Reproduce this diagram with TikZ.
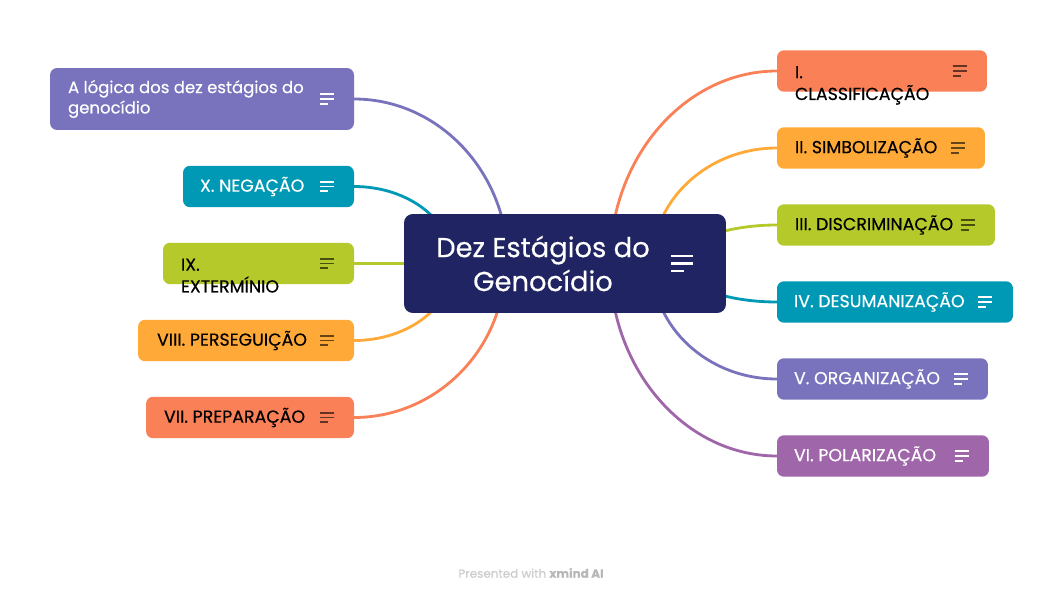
\documentclass[tikz,border=0pt]{standalone}
\usepackage{fontspec}
\setmainfont{Poppins}[FakeBold=0.35]
\usetikzlibrary{positioning}
\usetikzlibrary{backgrounds}

\definecolor{rootblue}{RGB}{32,36,98}
\definecolor{stpurple}{RGB}{120,115,188}
\definecolor{stteal}{RGB}{0,153,181}
\definecolor{stlime}{RGB}{181,201,42}
\definecolor{storange}{RGB}{255,170,56}
\definecolor{stcoral}{RGB}{250,128,88}
\definecolor{stmagenta}{RGB}{160,102,170}

\tikzset{every node/.style={inner sep=0pt, outer sep=0pt}}
\tikzset{
  stagebox/.style={rectangle, rounded corners=4pt, minimum height=0.83cm},
  stagetext/.style={font=\fontsize{9.9}{12.4}\selectfont, align=left},
  branch/.style={line width=1.6pt},
  iconlight/.style={draw=white, line width=1.1pt},
  icondark/.style={draw=black, draw opacity=0.6, line width=1.1pt},
  menuicon/.pic={\draw (0,-4.6) -- (14,-4.6) (0,0) -- (14,0) (0,4.6) -- (8,4.6);}
}

\begin{document}
\begin{tikzpicture}[x=0.02cm, y=-0.02cm]
    \useasboundingbox (0,0) rectangle (1063,598);

    % central topic
    \node[rectangle, rounded corners=5pt, fill=rootblue, minimum width=6.44cm, minimum height=1.98cm] (root) at (565,263.5) {};
    \node[font=\fontsize{15.6}{19.3}\selectfont, text=white, align=center, xshift=-0.44cm] (rootText) at (root) {Dez Estágios do\\Genocídio};
    \pic[iconlight, line width=1.4pt, scale=1.6] at ([xshift=-1.1cm]root.east) {menuicon};

    % left side
    \node[stagebox, fill=stpurple, minimum width=6.08cm, minimum height=1.24cm, anchor=east] (logic) at (354,99) {};
    \node[stagetext, font=\fontsize{9.4}{11.6}\selectfont, text=white, right=0.36cm of logic.west] (logicText) {A lógica dos dez estágios do\\genocídio};
    \pic[iconlight] at ([xshift=-0.68cm]logic.east) {menuicon};

    \node[stagebox, fill=stteal, minimum width=3.42cm, anchor=east] (neg) at (354,186.5) {};
    \node[stagetext, text=white, right=0.34cm of neg.west] (negText) {X. NEGAÇÃO};
    \pic[iconlight] at ([xshift=-0.68cm]neg.east) {menuicon};

    \node[stagebox, fill=stlime, minimum width=3.82cm, anchor=east] (ext) at (354,263.5) {};
    \node[stagetext, right=0.36cm of ext.west, anchor=base west, yshift=-0.58cm] (extText) {IX.\\EXTERMÍNIO};
    \pic[icondark] at ([xshift=-0.68cm]ext.east) {menuicon};

    \node[stagebox, fill=storange, minimum width=4.32cm, anchor=east] (pers) at (354,340.5) {};
    \node[stagetext, right=0.38cm of pers.west] (persText) {VIII. PERSEGUIÇÃO};
    \pic[icondark] at ([xshift=-0.68cm]pers.east) {menuicon};

    \node[stagebox, fill=stcoral, minimum width=4.16cm, anchor=east] (prep) at (354,417.5) {};
    \node[stagetext, right=0.36cm of prep.west] (prepText) {VII. PREPARAÇÃO};
    \pic[icondark] at ([xshift=-0.68cm]prep.east) {menuicon};

    % right side
    \node[stagebox, fill=stcoral, minimum width=4.2cm, anchor=west] (clas) at (777,71) {};
    \node[stagetext, right=0.36cm of clas.west, anchor=base west, yshift=-0.58cm] (clasText) {I.\\CLASSIFICAÇÃO};
    \pic[icondark] at ([xshift=-0.68cm]clas.east) {menuicon};

    \node[stagebox, fill=storange, minimum width=4.16cm, anchor=west] (simb) at (777,148) {};
    \node[stagetext, right=0.36cm of simb.west] (simbText) {II. SIMBOLIZAÇÃO};
    \pic[icondark] at ([xshift=-0.68cm]simb.east) {menuicon};

    \node[stagebox, fill=stlime, minimum width=4.36cm, anchor=west] (disc) at (777,225) {};
    \node[stagetext, right=0.36cm of disc.west] (discText) {III. DISCRIMINAÇÃO};
    \pic[icondark] at ([xshift=-0.68cm]disc.east) {menuicon};

    \node[stagebox, fill=stteal, minimum width=4.72cm, anchor=west] (desu) at (777,302) {};
    \node[stagetext, text=white, right=0.34cm of desu.west] (desuText) {IV. DESUMANIZAÇÃO};
    \pic[iconlight] at ([xshift=-0.7cm]desu.east) {menuicon};

    \node[stagebox, fill=stpurple, minimum width=4.22cm, anchor=west] (orga) at (777,379) {};
    \node[stagetext, text=white, right=0.34cm of orga.west] (orgaText) {V. ORGANIZAÇÃO};
    \pic[iconlight] at ([xshift=-0.68cm]orga.east) {menuicon};

    \node[stagebox, fill=stmagenta, minimum width=4.24cm, anchor=west] (pola) at (777,456) {};
    \node[stagetext, text=white, right=0.34cm of pola.west] (polaText) {VI. POLARIZAÇÃO};
    \pic[iconlight] at ([xshift=-0.68cm]pola.east) {menuicon};

    % branches
    \begin{scope}[on background layer]
    \draw[branch, stpurple] ([xshift=-1.14cm]root.center) .. controls +(0,-91) and +(85,0) .. (logic.east);
    \draw[branch, stteal] ([xshift=-2.24cm]root.center) .. controls +(0,-42.5) and +(55,0) .. (neg.east);
    \draw[branch, stlime] (root.center) -- (ext.east);
    \draw[branch, storange] ([xshift=-2.24cm]root.center) .. controls +(0,42.5) and +(55,0) .. (pers.east);
    \draw[branch, stcoral] ([xshift=-1.2cm]root.center) .. controls +(0,85) and +(83,0) .. (prep.east);
    \draw[branch, stcoral] ([xshift=0.9cm]root.center) .. controls +(0,-106) and +(-92,0) .. (clas.west);
    \draw[branch, storange] ([xshift=1.74cm]root.center) .. controls +(0,-64) and +(-69,0) .. (simb.west);
    \draw[branch, stlime] ([xshift=2.28cm]root.center) .. controls +(0,-21) and +(-54,0) .. (disc.west);
    \draw[branch, stteal] ([xshift=2.28cm]root.center) .. controls +(0,21) and +(-54,0) .. (desu.west);
    \draw[branch, stpurple] ([xshift=1.74cm]root.center) .. controls +(0,64) and +(-69,0) .. (orga.west);
    \draw[branch, stmagenta] ([xshift=0.9cm]root.center) .. controls +(0,106) and +(-92,0) .. (pola.west);
    \end{scope}

    \node[font=\fontsize{6.8}{8}\selectfont, text=black!20] (credit) at (531,573) {Presented with \textcolor{black!28}{\textbf{xmind AI}}};
\end{tikzpicture}
\end{document}
